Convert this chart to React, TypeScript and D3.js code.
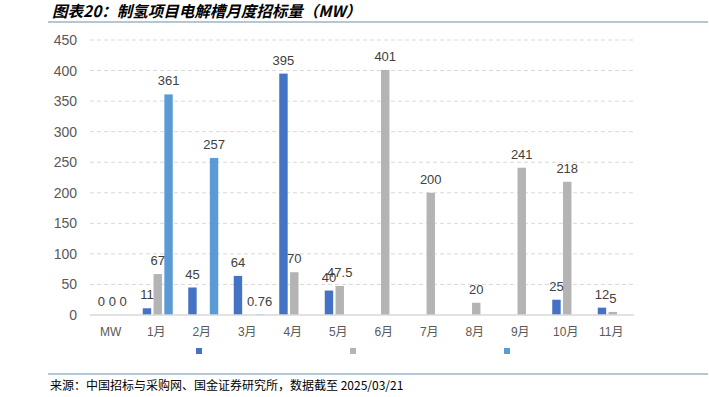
import * as d3 from "d3";

// categories and series (MW)
const categories = ["MW", "1月", "2月", "3月", "4月", "5月", "6月", "7月", "8月", "9月", "10月", "11月"];
const seriesA: (number | null)[] = [0, 11, 45, 64, 395, 40, null, null, null, null, 25, 12];
const seriesB: (number | null)[] = [0, 67, null, null, 70, 47.5, 401, 200, 20, 241, 218, 5];
const seriesC: (number | null)[] = [0, 361, 257, 0.76, null, null, null, null, null, null, null, null];
const yTicks = [0, 50, 100, 150, 200, 250, 300, 350, 400, 450];

const seriesList = [
  {key: "a", values: seriesA, color: "#4472C4"},
  {key: "b", values: seriesB, color: "#B4B4B4"},
  {key: "c", values: seriesC, color: "#5B9BD5"},
];

const W = 709, H = 397;
const font = "'Liberation Sans', Arial, 'Noto Sans CJK SC', sans-serif";

export default function App() {
  const x = d3.scaleBand<string>().domain(categories).range([88, 634]);
  const inner = d3.scaleBand<string>()
    .domain(seriesList.map(s => s.key))
    .range([-13.5, 16.5])
    .paddingInner(0.22);
  const y = d3.scaleLinear().domain([0, 450]).range([315, 40]);
  const cx = (c: string) => (x(c) as number) + x.bandwidth() / 2;

  // legend: empty series names, only markers
  const legend = d3.scalePoint<string>().domain(seriesList.map(s => s.key)).range([199, 507]);

  return (
    <svg width={W} height={H} style={{position: "absolute", left: 0, top: 0, background: "#fff"}}>
      <text x={52} y={17} fontSize={15.5} fontWeight="bold" fontStyle="italic"
            fontFamily="'Noto Sans CJK SC', sans-serif" fill="#000">
        图表20：制氢项目电解槽月度招标量（MW）
      </text>
      <line x1={48} x2={708} y1={22} y2={22} stroke="#9DB3C6" strokeWidth={1.5}/>

      {yTicks.map(t => (
        <g key={t}>
          {t > 0 && (
            <line x1={90} x2={634} y1={y(t)} y2={y(t)} stroke="#D9D9D9" strokeDasharray="4,3"/>
          )}
          <text x={77} y={y(t) + 5} textAnchor="end" fontSize={14} fill="#595959" fontFamily={font}>{t}</text>
        </g>
      ))}

      {seriesList.map(s => (
        <g key={s.key}>
          {categories.map((c, i) => {
            const v = s.values[i];
            if (v === null) return null;
            const bx = cx(c) + (inner(s.key) as number);
            return (
              <rect key={c} x={bx} y={y(v)} width={inner.bandwidth()}
                    height={Math.max(0, y(0) - y(v))} fill={s.color}/>
            );
          })}
        </g>
      ))}

      <line x1={90} x2={634} y1={y(0)} y2={y(0)} stroke="#D9D9D9" strokeWidth={1.5}/>

      {seriesList.map(s => (
        <g key={s.key + "l"}>
          {categories.map((c, i) => {
            const v = s.values[i];
            if (v === null) return null;
            const bx = cx(c) + (inner(s.key) as number) + inner.bandwidth() / 2;
            return (
              <text key={c} x={bx} y={y(v) - 9} textAnchor="middle" fontSize={13}
                    fill="#404040" fontFamily={font}>{v}</text>
            );
          })}
        </g>
      ))}

      {categories.map(c => (
        <text key={c} x={cx(c)} y={336} textAnchor="middle" fontSize={12} fill="#595959" fontFamily={font}>{c}</text>
      ))}

      {seriesList.map(s => (
        <rect key={s.key + "lg"} x={(legend(s.key) as number) - 3} y={348} width={6} height={6} fill={s.color}/>
      ))}

      <line x1={48} x2={708} y1={374} y2={374} stroke="#9DB3C6" strokeWidth={1.5}/>
      <text x={50} y={390} fontSize={12} fill="#000" fontFamily="'Noto Sans CJK SC', sans-serif">
        来源：中国招标与采购网、国金证券研究所，数据截至 2025/03/21
      </text>
    </svg>
  );
}
